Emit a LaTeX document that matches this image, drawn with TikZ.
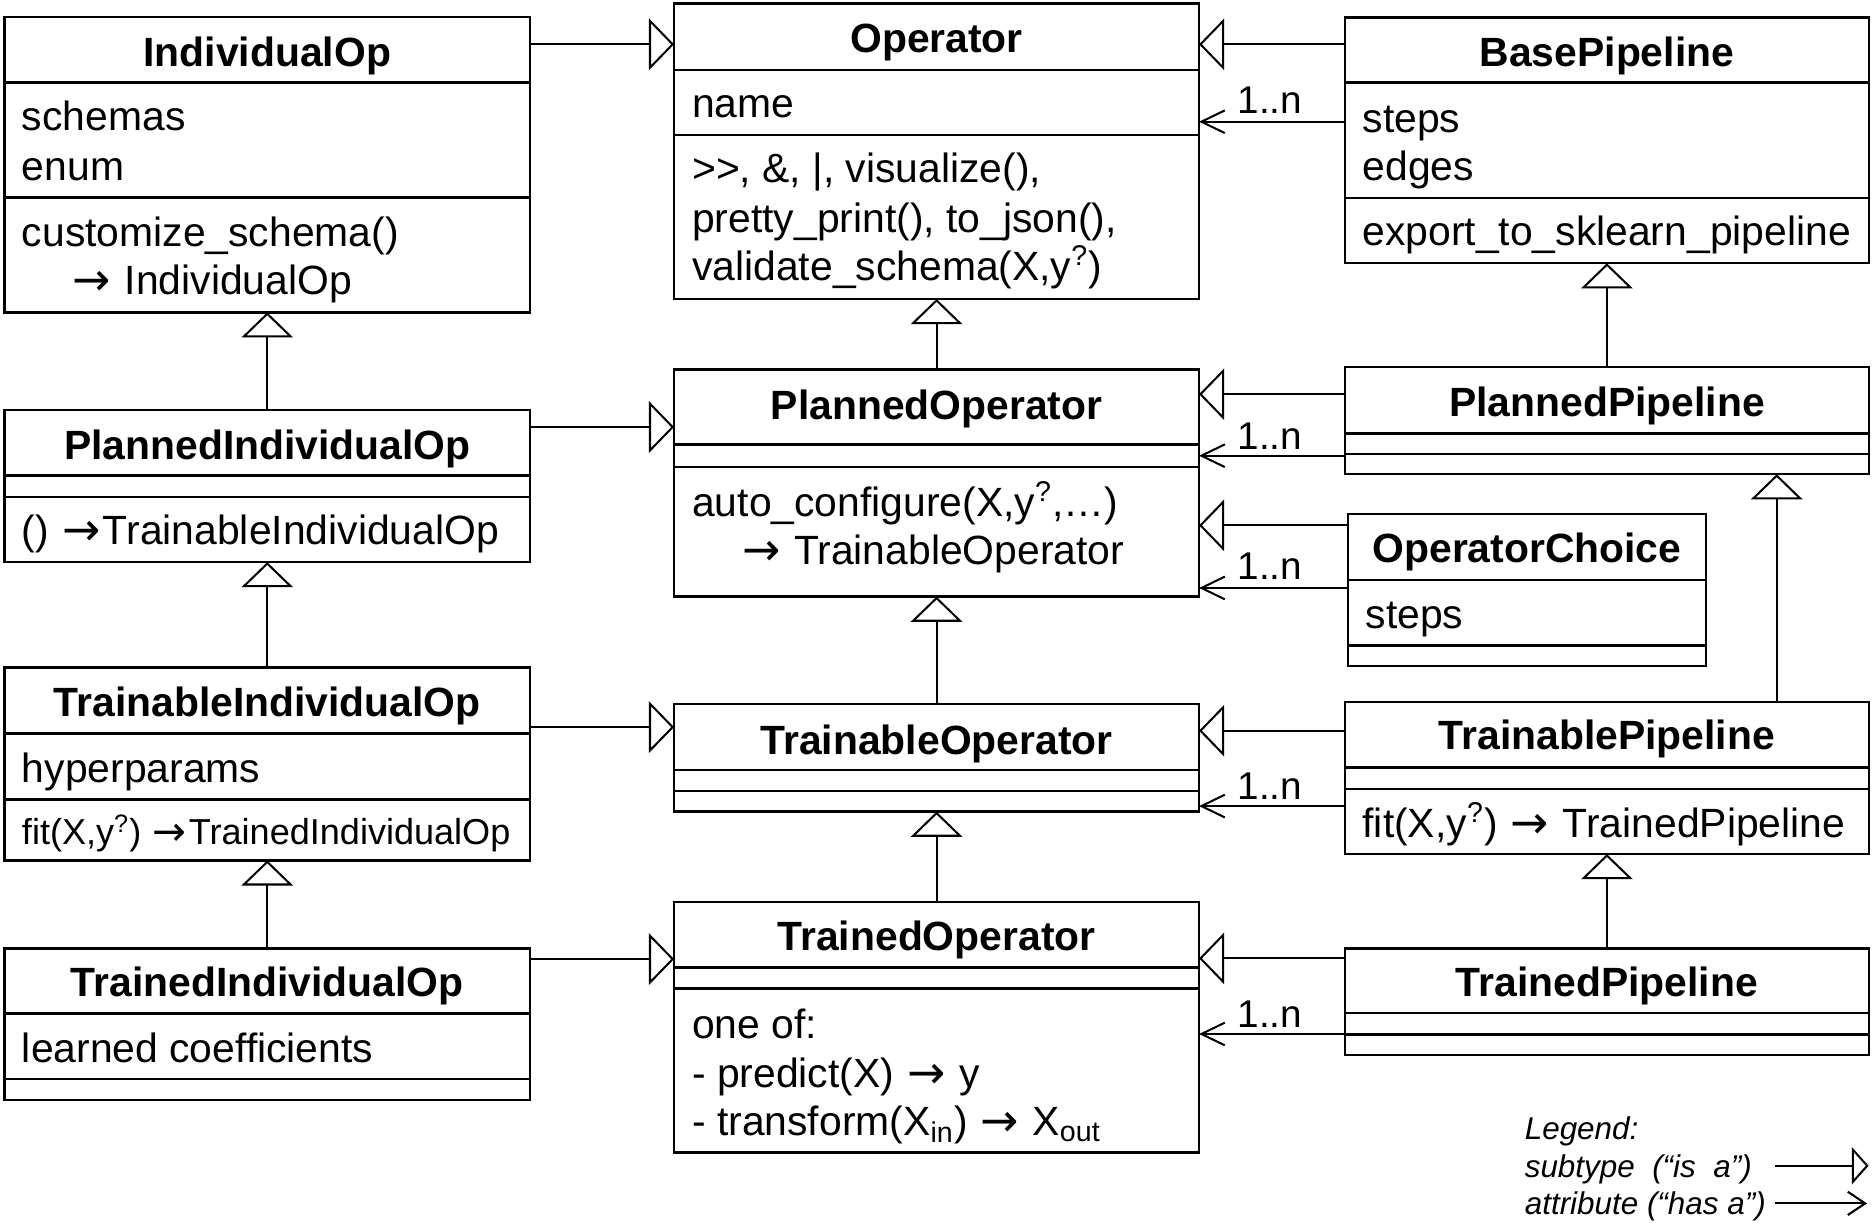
\documentclass[tikz,border=0pt]{standalone}
\usepackage{fontspec}
\setmainfont{Liberation Sans}
\newfontfamily\arrowfont{DejaVu Sans}
\usetikzlibrary{arrows.meta,fit}
\newcommand{\bodyfont}{\fontsize{17.1pt}{20.5pt}\selectfont}
\newcommand{\smallbodyfont}{\fontsize{15.1pt}{18.5pt}\selectfont}
\newcommand{\multfont}{\fontsize{16.2pt}{19pt}\selectfont}
\newcommand{\legendfont}{\fontsize{13.15pt}{16pt}\selectfont}
\newcommand{\umlbox}[7]{%
  \node[box, fit={(#2,#3) (#4,#5)}] (#1) {};
  \draw[sepline] (#1.west |- 0,#6) -- (#1.east |- 0,#6);
  \draw[sepline] (#1.west |- 0,#7) -- (#1.east |- 0,#7);
}
\newcommand{\tline}[4]{\node[txt] (#1) at (#2,#3) {#4};}
\newcommand{\sq}{\textsuperscript{?}}
\newcommand{\rarr}{\kern0.04em\raisebox{-0.02em}{\scalebox{1.12}{\arrowfont →}}\kern0.06em}
\begin{document}
\begin{tikzpicture}[x=0.5pt,y=-0.5pt,
  box/.style={draw, line width=1pt, inner sep=0pt, outer sep=0pt, rectangle},
  sepline/.style={line width=1pt},
  isa/.style={line width=0.85pt, -{Triangle[open, length=10.5pt, width=21.5pt]}},
  hasa/.style={line width=0.85pt, -{Straight Barb[length=9.8pt, width=9.5pt]}},
  txt/.style={inner sep=0pt, outer sep=0pt, anchor=base west, font=\bodyfont},
  ttl/.style={inner sep=0pt, outer sep=0pt, anchor=base, font=\bfseries\bodyfont},
  mult/.style={inner sep=0pt, outer sep=0pt, anchor=base west, font=\multfont},
  lgd/.style={inner sep=0pt, outer sep=0pt, anchor=base west, font=\itshape\legendfont},
]
\fill[white] (0,0) rectangle (1568,1024.7);
\useasboundingbox (0,0) rectangle (1568,1024.7);

% ---------- boxes ----------
\umlbox{iop}{3.8}{14}{443.7}{261.5}{68.9}{165.2}
\umlbox{op}{564.3}{2.8}{1003.8}{250.3}{58.6}{113}
\umlbox{bp}{1126}{14.5}{1564.5}{220.4}{68.9}{166}
\umlbox{piop}{3.8}{343}{443.7}{470.6}{398}{416}
\umlbox{pop}{564.3}{309.2}{1003.8}{499.5}{372}{390.7}
\umlbox{pp}{1126}{307}{1564.5}{397}{363}{380}
\umlbox{oc}{1128.5}{430.3}{1428}{557.3}{485.6}{540.3}
\umlbox{tiop}{3.8}{558.8}{443.7}{720.3}{614.1}{669.4}
\umlbox{top}{564.3}{589.4}{1003.8}{679.5}{644.6}{662.2}
\umlbox{tp}{1126}{587.7}{1564.5}{715}{642.5}{660.5}
\umlbox{triop}{3.8}{793.9}{443.7}{920.9}{848.3}{903.3}
\umlbox{trop}{564.3}{754.9}{1003.8}{964.7}{809.8}{827.4}
\umlbox{trp}{1126}{794}{1564.5}{883}{848}{866}

% ---------- titles ----------
\node[ttl] (iop-t) at (iop.north |- 0,55.4) {IndividualOp};
\node[ttl] (op-t) at (op.north |- 0,44.3) {Operator};
\node[ttl] (bp-t) at (bp.north |- 0,55.4) {BasePipeline};
\node[ttl] (piop-t) at (piop.north |- 0,384.9) {PlannedIndividualOp};
\node[ttl] (pop-t) at (pop.north |- 0,351.2) {PlannedOperator};
\node[ttl] (pp-t) at (pp.north |- 0,349) {PlannedPipeline};
\node[ttl] (oc-t) at (oc.north |- 0,470.6) {OperatorChoice};
\node[ttl] (tiop-t) at (tiop.north |- 0,600.2) {TrainableIndividualOp};
\node[ttl] (top-t) at (top.north |- 0,631.7) {TrainableOperator};
\node[ttl] (tp-t) at (tp.north |- 0,627.6) {TrainablePipeline};
\node[ttl] (triop-t) at (triop.north |- 0,834) {TrainedIndividualOp};
\node[ttl] (trop-t) at (trop.north |- 0,795.8) {TrainedOperator};
\node[ttl] (trp-t) at (trp.north |- 0,834) {TrainedPipeline};

% ---------- compartment texts ----------
\tline{iop-a1}{18.4}{109.4}{schemas}
\tline{iop-a2}{18.4}{150.8}{enum}
\tline{iop-m1}{18.4}{206.5}{customize\_schema()}
\tline{iop-m2}{59.4}{246.5}{\rarr\ IndividualOp}

\tline{op-a1}{579.5}{98.7}{name}
\tline{op-m1}{579.5}{153}{>\kern0pt>, \&, |, visualize(),}
\tline{op-m2}{579.5}{194.6}{pretty\_print(), to\_json(),}
\tline{op-m3}{579.5}{235}{validate\_schema(X,y\sq)}

\tline{bp-a1}{1140.7}{110.8}{steps}
\tline{bp-a2}{1140.7}{151.3}{edges}
\tline{bp-m1}{1140.7}{205.1}{export\_to\_sklearn\_pipeline}

\tline{piop-m1}{18.4}{455.7}{() \rarr TrainableIndividualOp}

\tline{pop-m1}{579.5}{432.7}{auto\_configure(X,y\sq,…)}
\tline{pop-m2}{619.8}{472.6}{\rarr\ TrainableOperator}

\tline{oc-a1}{1143.3}{526.4}{steps}

\tline{tiop-a1}{18.4}{655}{hyperparams}
\node[txt, font=\smallbodyfont] (tiop-m1) at (18.4,707.3) {fit(X,y\sq) \rarr TrainedIndividualOp};

\tline{tp-m1}{1140.7}{701.4}{fit(X,y\sq) \rarr\ TrainedPipeline}

\tline{triop-a1}{18.4}{889.4}{learned coefficients}

\tline{trop-m1}{579.5}{869.5}{one of:}
\tline{trop-m2}{579.5}{910.5}{- predict(X) \rarr\ y}
\tline{trop-m3}{579.5}{950.8}{- transform(X\textsubscript{in}) \rarr\ X\textsubscript{out}}

% ---------- row coordinates ----------
\coordinate (r1) at (0,37.1);
\coordinate (r2) at (0,101.9);
\coordinate (r3) at (0,357.5);
\coordinate (r4) at (0,330);
\coordinate (r5) at (0,381.5);
\coordinate (r6) at (0,439.8);
\coordinate (r7) at (0,492.2);
\coordinate (r8) at (0,608.7);
\coordinate (r9) at (0,611.7);
\coordinate (r10) at (0,674.8);
\coordinate (r11) at (0,802.9);
\coordinate (r12) at (0,802.3);
\coordinate (r13) at (0,865.6);
\coordinate (xc) at (1487.4,0);

% ---------- horizontal connectors ----------
\draw[isa] (iop.east |- r1) -- (op.west |- r1);
\draw[isa] (bp.west |- r1) -- (op.east |- r1);
\draw[hasa] (bp.west |- r2) -- (op.east |- r2);
\draw[isa] (piop.east |- r3) -- (pop.west |- r3);
\draw[isa] (pp.west |- r4) -- (pop.east |- r4);
\draw[hasa] (pp.west |- r5) -- (pop.east |- r5);
\draw[isa] (oc.west |- r6) -- (pop.east |- r6);
\draw[hasa] (oc.west |- r7) -- (pop.east |- r7);
\draw[isa] (tiop.east |- r8) -- (top.west |- r8);
\draw[isa] (tp.west |- r9) -- (top.east |- r9);
\draw[hasa] (tp.west |- r10) -- (top.east |- r10);
\draw[isa] (triop.east |- r11) -- (trop.west |- r11);
\draw[isa] (trp.west |- r12) -- (trop.east |- r12);
\draw[hasa] (trp.west |- r13) -- (trop.east |- r13);

% multiplicities
\node[mult] (m1) at (1036,95.1) {1..n};
\node[mult] (m2) at (1036,376) {1..n};
\node[mult] (m3) at (1036,485.5) {1..n};
\node[mult] (m4) at (1036,669.5) {1..n};
\node[mult] (m5) at (1036,860) {1..n};

% ---------- vertical connectors ----------
\draw[isa] (piop.north) -- (iop.south);
\draw[isa] (tiop.north) -- (piop.south);
\draw[isa] (triop.north) -- (tiop.south);
\draw[isa] (pop.north) -- (op.south);
\draw[isa] (top.north) -- (pop.south);
\draw[isa] (trop.north) -- (top.south);
\draw[isa] (pp.north) -- (bp.south);
\draw[isa] (tp.north -| xc) -- (pp.south -| xc);
\draw[isa] (trp.north) -- (tp.south);

% ---------- legend ----------
\node[lgd] (lg0) at (1276.5,953.8) {Legend:};
\node[lgd] (lg1) at (1276.5,985.5) {subtype\ \ (“is\ \ a”)};
\node[lgd] (lg2) at (1276.5,1016.5) {attribute (“has a”)};
\coordinate (lga) at (1485.6,975.9);
\coordinate (lgb) at (1564.3,975.9);
\coordinate (lgc) at (1485.6,1007.4);
\coordinate (lgd) at (1563,1007.4);
\draw[line width=0.85pt, -{Triangle[open, length=7pt, width=15.5pt]}] (lga) -- (lgb);
\draw[line width=0.85pt, -{Straight Barb[length=7.3pt, width=9.75pt]}] (lgc) -- (lgd);
\end{tikzpicture}
\end{document}
